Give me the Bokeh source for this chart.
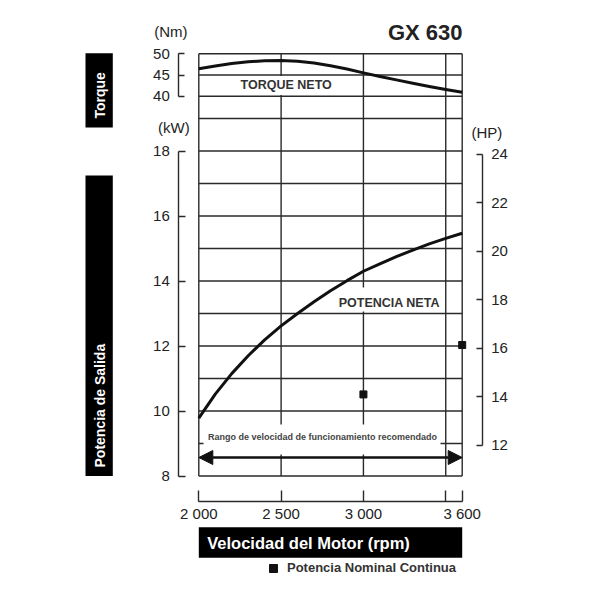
from math import pi
from bokeh.plotting import figure
from bokeh.models import (Range1d, LinearAxis, FixedTicker, Arrow, NormalHead,
                          Legend, LegendItem)
from bokeh.core.properties import value
from bokeh.embed import file_html
from bokeh.resources import INLINE

# ---------------- data ----------------
rpm = [2000, 2100, 2200, 2300, 2400, 2500, 2600, 2700, 2800,
       2900, 3000, 3100, 3200, 3300, 3400, 3500, 3600]
torque_nm = [46.45, 47.1, 47.7, 48.1, 48.35, 48.42, 48.25, 47.85, 47.2,
             46.4, 45.5, 44.65, 43.85, 43.05, 42.3, 41.6, 40.95]
power_kw = [9.78, 10.52, 11.15, 11.70, 12.19, 12.62, 13.00, 13.36, 13.70,
            14.01, 14.30, 14.53, 14.75, 14.95, 15.14, 15.31, 15.47]
rated_rpm = [3000, 3600]
rated_kw = [10.51, 12.03]

rpm_ticks = [2000, 2500, 3000, 3500, 3600]
rpm_labels = ["2 000", "2 500", "3 000", "", "3 600"]
kw_ticks = [8, 10, 12, 14, 16, 18]
kw_grid = [8, 9, 10, 11, 12, 13, 14, 15, 16, 17, 18, 19]
nm_ticks = [40, 45, 50]
hp_ticks = [12, 14, 16, 18, 20, 22, 24]

title_text = "GX 630"
torque_label = "TORQUE NETO"
power_label = "POTENCIA NETA"
range_label = "Rango de velocidad de funcionamiento recomendado"
legend_label = "Potencia Nominal Continua"
xlab = "Velocidad del Motor (rpm)"
ylab_torque = "Torque"
ylab_power = "Potencia de Salida"
HP_PER_KW = 1.341

# ---------------- layout (screen pixels of the page) ----------------
W = H = 592
M = 0
PX_X0, PX_X1 = 198.3, 461.7      # rpm 2000 / 3600
PX_Y8, PX_Y18 = 475.5, 150.5     # kW 8 / 18


def X(px):
    return 2000 + (px - PX_X0) * 1600 / (PX_X1 - PX_X0)


def Y(py):
    return 8 + (PX_Y8 - py) * 10 / (PX_Y8 - PX_Y18)


kw40, kw50 = Y(95.7), Y(53.3)


def nm_from_kw(k):
    return 40 + (k - kw40) * 10 / (kw50 - kw40)


def kw_from_nm(t):
    return kw40 + (t - 40) * (kw50 - kw40) / 10


y0, y1 = Y(M + H), Y(M)
p = figure(width=W, height=H, x_range=Range1d(X(M), X(M + W)),
           y_range=Range1d(y0, y1), x_axis_location=None, y_axis_location=None,
           toolbar_location=None, output_backend="svg", min_border=0,
           outline_line_color=None)
p.grid.visible = False
p.extra_y_ranges = {"nm": Range1d(nm_from_kw(y0), nm_from_kw(y1)),
                    "hp": Range1d(y0 * HP_PER_KW, y1 * HP_PER_KW)}

FONT = value("Liberation Sans")
GRID = "#2a2a2a"

# grid
n = len(kw_grid)
p.segment(x0=[rpm_ticks[0]] * n, x1=[rpm_ticks[-1]] * n, y0=kw_grid, y1=kw_grid,
          line_color=GRID, line_width=1.4)
p.segment(x0=[rpm_ticks[0]] * 3, x1=[rpm_ticks[-1]] * 3, y0=nm_ticks, y1=nm_ticks,
          line_color=GRID, line_width=1.4, y_range_name="nm")
m = len(rpm_ticks)
p.segment(x0=rpm_ticks, x1=rpm_ticks, y0=[kw_grid[0]] * m,
          y1=[kw_from_nm(nm_ticks[-1])] * m, line_color=GRID, line_width=1.4)

# white label boxes
p.quad(left=[X(228), X(336), X(203)], right=[X(345), X(444), X(440)],
       top=[Y(75.5), Y(287), Y(424)], bottom=[Y(94.5), Y(311), Y(454)],
       fill_color="white", line_color=None)

# curves
p.line(rpm, torque_nm, y_range_name="nm", line_color="#111111", line_width=3,
       line_join="round")
p.line(rpm, power_kw, line_color="#111111", line_width=3, line_join="round")
sq = p.scatter(rated_rpm, rated_kw, marker="square", size=7, color="#111111")

# in-plot labels
p.text(x=[X(285.7), X(388.8)], y=[Y(84), Y(302.7)], text=[torque_label, power_label],
       text_font=FONT, text_font_style="bold", text_font_size="12.5px",
       text_color="#333333", text_align="center", text_baseline="middle")
p.text(x=[X(322)], y=[Y(436)], text=[range_label], text_font=FONT,
       text_font_style="bold", text_font_size="9px", text_color="#444444",
       text_align="center", text_baseline="middle")

# recommended range arrow
p.add_layout(Arrow(start=NormalHead(size=14, fill_color="#111111", line_color="#111111"),
                   end=NormalHead(size=14, fill_color="#111111", line_color="#111111"),
                   x_start=rpm_ticks[0], y_start=Y(457), x_end=rpm_ticks[-1], y_end=Y(457),
                   line_width=2.5, line_color="#111111"))

# axes
common = dict(major_tick_out=0, minor_tick_in=0, minor_tick_out=0,
              axis_line_color=GRID, axis_line_width=1.4,
              major_tick_line_color=GRID, major_tick_line_width=1.4,
              major_label_text_font="Liberation Sans",
              major_label_text_font_size="15px", major_label_text_color="#222222")

kw_axis = LinearAxis(ticker=FixedTicker(ticks=kw_ticks), bounds=(8, 18),
                     fixed_location=X(178.3), major_tick_in=7,
                     major_label_standoff=9, **common)
nm_axis = LinearAxis(y_range_name="nm", ticker=FixedTicker(ticks=nm_ticks),
                     bounds=(40, 50), fixed_location=X(178.3), major_tick_in=6,
                     major_label_standoff=9, **common)
hp_axis = LinearAxis(y_range_name="hp", ticker=FixedTicker(ticks=hp_ticks),
                     bounds=(12, 24), fixed_location=X(481.7), major_tick_in=6,
                     major_label_standoff=9, **common)
rpm_axis = LinearAxis(ticker=FixedTicker(ticks=rpm_ticks), bounds=(2000, 3600),
                      fixed_location=Y(500.7), major_tick_in=11,
                      major_label_standoff=4,
                      major_label_overrides=dict(zip(rpm_ticks, rpm_labels)), **common)
p.add_layout(kw_axis, "left")
p.add_layout(nm_axis, "left")
p.add_layout(hp_axis, "right")
p.add_layout(rpm_axis, "below")

# unit labels and title
p.text(x=[X(170.3), X(173.3), X(486.3)], y=[Y(30.7), Y(127.3), Y(131.7)],
       text=["(Nm)", "(kW)", "(HP)"], text_font=FONT, text_font_size="15px",
       text_color="#222222", text_align="center", text_baseline="middle")
p.text(x=[X(462)], y=[Y(31.5)], text=[title_text], text_font=FONT,
       text_font_style="bold", text_font_size="22px", text_color="#222222",
       text_align="right", text_baseline="middle")

# black label boxes
p.quad(left=[X(85), X(85), rpm_ticks[0]], right=[X(112.3), X(112.3), rpm_ticks[-1]],
       top=[Y(52.7), Y(175), Y(526.7)], bottom=[Y(127), Y(475.5), Y(557.3)],
       fill_color="black", line_color=None)
p.text(x=[X(99), X(99)], y=[Y(118), Y(467)], text=[ylab_torque, ylab_power],
       angle=pi / 2, text_font=FONT, text_font_style="bold", text_font_size="14px",
       text_color="white", text_align="left", text_baseline="middle")
p.text(x=[X(206.7)], y=[Y(542)], text=[xlab], text_font=FONT, text_font_style="bold",
       text_font_size="16.5px", text_color="white", text_align="left",
       text_baseline="middle")

# legend (location = bottom-left corner, screen px from frame bottom-left)
legend = Legend(items=[LegendItem(label=legend_label, renderers=[sq])],
                location=(263, H - 577.5), glyph_width=20, glyph_height=20,
                label_standoff=4, padding=0, margin=0, spacing=0,
                border_line_color=None, background_fill_alpha=0,
                label_text_font="Liberation Sans", label_text_font_style="bold",
                label_text_font_size="13px", label_text_color="#333333")
p.add_layout(legend)

open("out.html", "w").write(file_html(p, INLINE))
